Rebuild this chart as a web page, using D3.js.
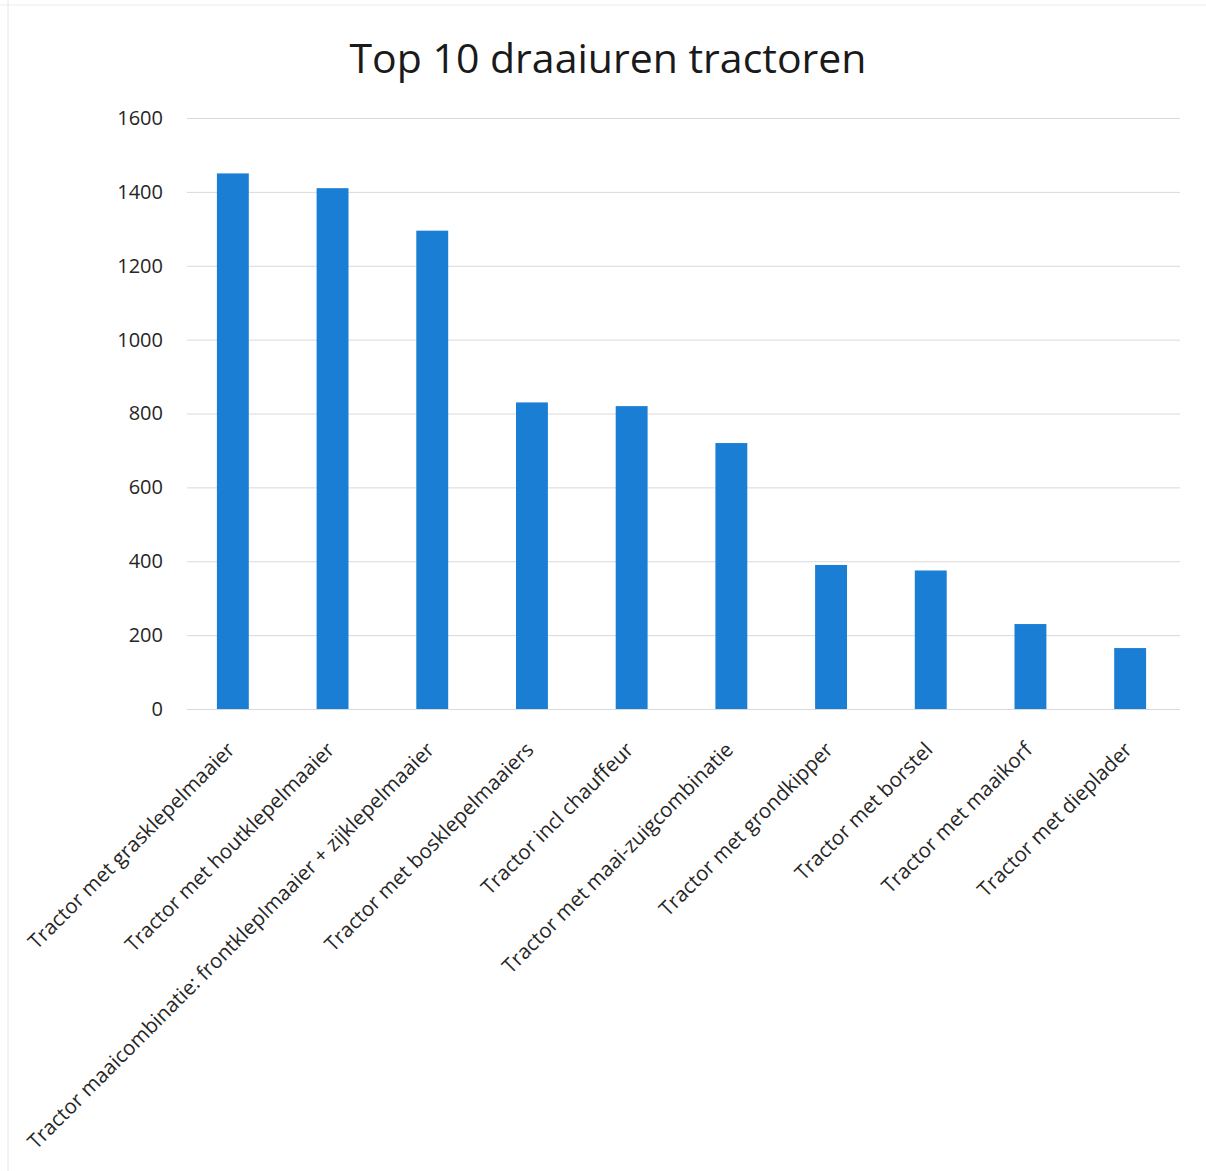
<!DOCTYPE html>
<html>
<head>
<title>Top 10 draaiuren tractoren</title>
<script src="https://d3js.org/d3.v7.min.js"></script>
<style>
body { margin: 0; background: #fff; font-family: 'Open Sans', sans-serif; }
svg { display: block; }
</style>
</head>
<body>

<svg height="1171" width="1206" id="chart"></svg>
<script>

  var categories = [
    "Tractor met grasklepelmaaier",
    "Tractor met houtklepelmaaier",
    "Tractor maaicombinatie: frontklepImaaier + zijklepelmaaier",
    "Tractor met bosklepelmaaiers",
    "Tractor incl chauffeur",
    "Tractor met maai-zuigcombinatie",
    "Tractor met grondkipper",
    "Tractor met borstel",
    "Tractor met maaikorf",
    "Tractor met dieplader"
  ];
  var hours = [1450, 1410, 1295, 830, 820, 720, 390, 375, 230, 165];
  var yTicks = [0, 200, 400, 600, 800, 1000, 1200, 1400, 1600];
  var title = "Top 10 draaiuren tractoren";

  var data = categories.map(function (c, i) { return {name: c, value: hours[i]}; });

  var plotLeft = 183, plotRight = 1180, plotTop = 118, plotBottom = 709;

  var x = d3.scaleBand()
    .domain(categories)
    .range([plotLeft, plotRight])
    .paddingInner(0.68)
    .paddingOuter(0.34);

  var y = d3.scaleLinear()
    .domain([0, 1600])
    .range([plotBottom, plotTop]);

  var svg = d3.select("#chart");

  // faint page edges from the scan
  svg.append("line")
    .attr("x1", 8).attr("x2", 8).attr("y1", 0).attr("y2", 1171)
    .attr("stroke", "#e6e6e6").attr("stroke-width", 1);
  svg.append("line")
    .attr("x1", 0).attr("x2", 1206).attr("y1", 5).attr("y2", 5)
    .attr("stroke", "#ececec").attr("stroke-width", 1);

  svg.append("text")
    .attr("x", 608)
    .attr("y", 73)
    .attr("text-anchor", "middle")
    .attr("font-size", 41)
    .attr("fill", "#1a1a1a")
    .text(title);

  var yAxis = svg.append("g")
    .attr("transform", "translate(" + (plotLeft + 4) + ",0)")
    .call(d3.axisLeft(y)
      .tickValues(yTicks)
      .tickFormat(d3.format("d"))
      .tickSize(-(plotRight - plotLeft - 4))
      .tickPadding(24));

  yAxis.select(".domain").remove();
  yAxis.selectAll(".tick line")
    .attr("stroke", "#d9d9d9")
    .attr("stroke-width", 1);
  yAxis.selectAll(".tick text")
    .attr("font-family", "'Open Sans', sans-serif")
    .attr("font-size", 20)
    .attr("fill", "#262626");

  svg.append("g")
    .selectAll("rect")
    .data(data)
    .join("rect")
      .attr("x", function (d) { return x(d.name); })
      .attr("y", function (d) { return y(d.value); })
      .attr("width", x.bandwidth())
      .attr("height", function (d) { return y(0) - y(d.value); })
      .attr("fill", "#1a7fd4");

  var xAxis = svg.append("g")
    .attr("transform", "translate(0," + plotBottom + ")")
    .call(d3.axisBottom(x).tickSize(0));

  xAxis.select(".domain").remove();
  xAxis.selectAll(".tick text")
    .attr("font-family", "'Open Sans', sans-serif")
    .attr("font-size", 20.5)
    .attr("fill", "#262626")
    .attr("text-anchor", "end")
    .attr("y", 0)
    .attr("dy", "0.35em")
    .attr("transform", "translate(-2,37) rotate(-45)");

</script>
</body>
</html>
